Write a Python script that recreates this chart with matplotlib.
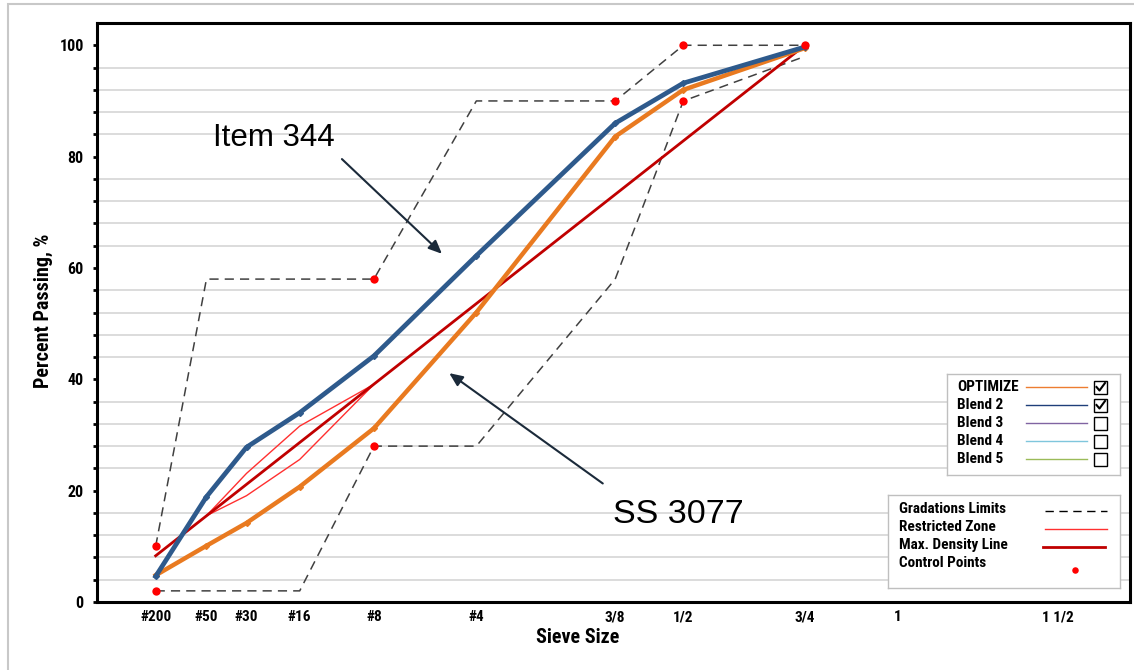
import numpy as np
import matplotlib
matplotlib.use('Agg')
import matplotlib.pyplot as plt
from matplotlib import font_manager as fm
from matplotlib.patches import Rectangle


def pick_narrow():
    # the chart uses a narrow bold face, take the first one installed with a bold weight
    wanted = ['Arial Narrow', 'Liberation Sans Narrow', 'Roboto Condensed', 'Archivo Narrow',
              'PT Sans Narrow', 'Barlow Semi Condensed', 'Asap Condensed']
    for name in wanted:
        for f in fm.fontManager.ttflist:
            w = f.weight if isinstance(f.weight, int) else (700 if 'bold' in str(f.weight) else 400)
            if f.name == name and w >= 600 and f.style == 'normal':
                return name
    return 'Liberation Sans'


NARROW = pick_narrow()
plt.rcParams['font.family'] = [NARROW, 'DejaVu Sans']

# sieve sizes (mm) and labels, x axis is size^0.45
sieve_mm = [0.075, 0.3, 0.6, 1.18, 2.36, 4.75, 9.5, 12.5, 19.0, 25.0, 37.5]
sieve_lbl = ['#200', '#50', '#30', '#16', '#8', '#4', '3/8', '1/2', '3/4', '1', '1 1/2']
sx = {l: m ** 0.45 for l, m in zip(sieve_lbl, sieve_mm)}

blend_sieves = ['#200', '#50', '#30', '#16', '#8', '#4', '3/8', '1/2', '3/4']
optimize = [4.8, 10.1, 14.2, 20.7, 31.2, 52.0, 83.6, 92.0, 99.5]
blend2 = [4.6, 18.9, 27.8, 34.0, 44.2, 62.2, 86.0, 93.2, 99.7]

upper_sieves = ['#200', '#50', '#8', '#4', '3/8', '1/2', '3/4']
upper_lim = [10, 58, 58, 90, 90, 100, 100]
lower_sieves = ['#200', '#16', '#8', '#4', '3/8', '1/2', '3/4']
lower_lim = [2, 2, 28, 28, 58, 90, 98]

rz_sieves = ['#50', '#30', '#16', '#8']
rz_upper = [15.5, 23.1, 31.6, 39.1]
rz_lower = [15.5, 19.1, 25.6, 39.1]

mdl_sieves = ['#200', '3/4']
mdl_vals = [8.3, 100]

cp_sieves = ['#200', '#200', '#8', '#8', '3/8', '1/2', '1/2', '3/4']
cp_vals = [2, 10, 28, 58, 90, 90, 100, 100]

legend1_names = ['OPTIMIZE', 'Blend 2', 'Blend 3', 'Blend 4', 'Blend 5']
legend1_colors = ['#ED7D31', '#1F3F7A', '#8064A2', '#7FC6DC', '#9BBB59']
legend1_checked = [True, True, False, False, False]
legend2_names = ['Gradations Limits', 'Restricted Zone', 'Max. Density Line', 'Control Points']

W, H = 1134, 670
fig = plt.figure(figsize=(W / 100, H / 100), dpi=100)
fig.patches.append(Rectangle((8 / W, -0.01), 1.1, 1 - 4 / H + 0.01, transform=fig.transFigure,
                             fill=False, ec='#C8C8C8', lw=1.5))

ax = fig.add_axes([97 / W, (H - 602) / H, (1130 - 97) / W, (602 - 23) / H])
X = lambda labels: [sx[l] for l in labels]

ax.plot(X(upper_sieves), upper_lim, ls=(0, (6, 4)), color='#404040', lw=1.1, zorder=3)
ax.plot(X(lower_sieves), lower_lim, ls=(0, (6, 4)), color='#404040', lw=1.1, zorder=3)
ax.plot(X(rz_sieves), rz_upper, color='#FF3030', lw=1.0, zorder=4)
ax.plot(X(rz_sieves), rz_lower, color='#FF3030', lw=1.0, zorder=4)
ax.plot(X(mdl_sieves), mdl_vals, color='#C00000', lw=2.0, zorder=5)
ax.plot(X(blend_sieves), optimize, color='#E97A20', lw=3.2, marker='D', ms=3, zorder=6)
ax.plot(X(blend_sieves), blend2, color='#2E5A8C', lw=3.4, marker='D', ms=3, zorder=7)
ax.scatter(X(cp_sieves), cp_vals, s=36, color='#FF0000', zorder=8, linewidths=0)

ax.set_xlim(0, 5.49)
ax.set_ylim(0, 104)
ax.set_xticks(X(sieve_lbl))
ax.set_xticklabels(sieve_lbl, fontsize=11, fontweight='bold')
ax.tick_params(axis='x', length=0, pad=6)
ax.set_yticks(np.arange(0, 101, 20))
ax.set_yticks(np.arange(0, 101, 4), minor=True)
ax.tick_params(axis='y', which='both', direction='out', length=3, width=2, labelsize=11.5, pad=6.5)
for t in ax.get_yticklabels():
    t.set_fontweight('bold')
ax.grid(True, which='minor', axis='y', color='#D9D9D9', lw=1.3, zorder=0)
ax.set_axisbelow(True)
for s in ax.spines.values():
    s.set_linewidth(2.2)
ax.set_xlabel('Sieve Size', fontsize=14.5, fontweight='bold')
ax.xaxis.set_label_coords(0.465, -0.045)
ax.set_ylabel('Percent Passing, %', fontsize=14.5, fontweight='bold')
ax.yaxis.set_label_coords(-0.043, 0.503)

# annotations
ax.annotate('', xy=(1.844, 62.2), xytext=(1.291, 79.9),
            arrowprops=dict(arrowstyle='-|>,head_length=0.8,head_width=0.35', color='#1B2A3A', lw=1.5), zorder=9)
ax.text(0.94, 83.3, 'Item 344', fontsize=22.5, ha='center', va='center', family='Liberation Sans', zorder=9)
ax.annotate('', xy=(1.86, 41.4), xytext=(2.70, 21.0),
            arrowprops=dict(arrowstyle='-|>,head_length=0.8,head_width=0.35', color='#1B2A3A', lw=1.5), zorder=9)
ax.text(3.09, 15.8, 'SS 3077', fontsize=24.5, ha='center', va='center', family='Liberation Sans', zorder=9)


def box_axes(x0, y0, x1, y1):
    b = fig.add_axes([x0 / W, (H - y1) / H, (x1 - x0) / W, (y1 - y0) / H])
    b.set_xlim(0, x1 - x0)
    b.set_ylim(y1 - y0, 0)
    b.set_xticks([])
    b.set_yticks([])
    for s in b.spines.values():
        s.set_color('#BFBFBF')
        s.set_linewidth(1.0)
    return b


# legend 1: blends with checkboxes
lg1 = box_axes(947, 374, 1120, 475)
for i, (name, c, chk) in enumerate(zip(legend1_names, legend1_colors, legend1_checked)):
    yy = 13 + 18 * i
    lg1.text(10, yy, name, fontsize=11, fontweight='bold', va='center')
    lg1.plot([79, 140], [yy, yy], color=c, lw=1.0)
    lg1.add_patch(Rectangle((147, yy - 6), 13, 13, fill=False, ec='black', lw=1.0))
    if chk:
        lg1.plot([149.5, 152.5, 158], [yy, yy + 3.5, yy - 4], color='black', lw=1.5)

# legend 2: reference lines
lg2 = box_axes(888, 495, 1120, 588)
for i, name in enumerate(legend2_names):
    lg2.text(11, 14 + 18 * i, name, fontsize=11, fontweight='bold', va='center')
lg2.plot([157, 219], [16, 16], ls=(0, (6, 4)), color='black', lw=1.0)
lg2.plot([157, 219], [34, 34], color='#FF3030', lw=1.0)
lg2.plot([155, 217], [52, 52], color='#C00000', lw=2.0)
lg2.scatter([187], [75], s=22, color='#FF0000', linewidths=0)

fig.savefig('out.png', dpi=100)
